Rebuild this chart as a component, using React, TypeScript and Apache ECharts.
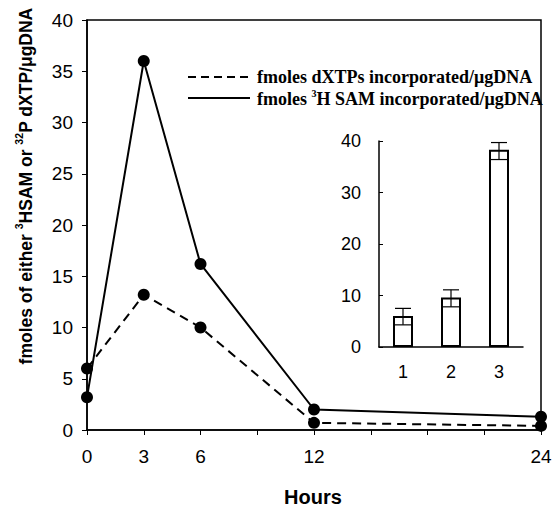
import React, { useEffect, useRef } from "react";
import * as echarts from "echarts";

const hours = [0, 3, 6, 12, 24];
const labeledHours = [0, 3, 6, 12, 24];
const samValues = [3.2, 36.0, 16.2, 2.0, 1.3];
const dxtpValues = [6.0, 13.2, 10.0, 0.7, 0.4];

const insetCategories = ["1", "2", "3"];
const insetValues = [6.0, 9.6, 38.3];
const insetErrLow = [4.3, 7.8, 36.4];
const insetErrHigh = [7.5, 11.1, 39.7];

const legendDxtp = "fmoles dXTPs incorporated/\u03bcgDNA";
const legendSamRich = "{a|fmoles }{s|3}{a|H SAM incorporated/\u03bcgDNA}";
const yAxisNameRich = "{a|fmoles of either }{s|3}{a|HSAM or }{s|32}{a|P dXTP/\u03bcgDNA}";
const xAxisName = "Hours";

const SANS = "'Liberation Sans', Arial, Helvetica, sans-serif";
const SERIF = "'Liberation Serif', 'Times New Roman', serif";

export default function App() {
  const ref = useRef<HTMLDivElement>(null);

  useEffect(() => {
    if (!ref.current) return;
    const chart = echarts.init(ref.current, undefined, { renderer: "svg" });

    const option: any = {
      animation: false,
      backgroundColor: "#fff",
      grid: [
        {
          left: 87,
          right: 17,
          top: 20,
          bottom: 80,
          show: true,
          borderColor: "#000",
          borderWidth: 1.5,
          backgroundColor: "transparent",
        },
        { left: 379, right: 35, top: 141, bottom: 163 },
      ],
      xAxis: [
        {
          type: "value",
          gridIndex: 0,
          min: 0,
          max: 24,
          interval: 3,
          axisLine: { show: true, lineStyle: { color: "#000", width: 1.5 } },
          axisTick: { show: true, length: 5, lineStyle: { color: "#000" } },
          splitLine: { show: false },
          axisLabel: {
            margin: 17,
            fontFamily: SANS,
            fontSize: 19,
            color: "#000",
            formatter: (v: number) => (labeledHours.indexOf(v) >= 0 ? String(v) : ""),
          },
        },
        {
          type: "category",
          gridIndex: 1,
          data: insetCategories,
          axisLine: { show: true, lineStyle: { color: "#000", width: 1.5 } },
          axisTick: { show: false },
          axisLabel: { margin: 16, fontFamily: SANS, fontSize: 18, color: "#000" },
        },
      ],
      yAxis: [
        {
          type: "value",
          gridIndex: 0,
          min: 0,
          max: 40,
          interval: 5,
          axisLine: { show: true, lineStyle: { color: "#000", width: 1.5 } },
          axisTick: { show: true, length: 5, lineStyle: { color: "#000" } },
          splitLine: { show: false },
          axisLabel: { margin: 14, fontFamily: SANS, fontSize: 19, color: "#000" },
        },
        {
          type: "value",
          gridIndex: 1,
          min: 0,
          max: 40,
          interval: 10,
          axisLine: { show: true, lineStyle: { color: "#000", width: 1.5 } },
          axisTick: { show: true, inside: true, length: 4, lineStyle: { color: "#000" } },
          splitLine: { show: false },
          axisLabel: { margin: 18, fontFamily: SANS, fontSize: 18, color: "#000" },
        },
      ],
      series: [
        {
          name: "dXTP",
          type: "line",
          xAxisIndex: 0,
          yAxisIndex: 0,
          data: hours.map((h, i) => [h, dxtpValues[i]]),
          symbol: "circle",
          symbolSize: 12,
          itemStyle: { color: "#000" },
          lineStyle: { color: "#000", width: 2, type: [9, 6] },
          z: 3,
        },
        {
          name: "SAM",
          type: "line",
          xAxisIndex: 0,
          yAxisIndex: 0,
          data: hours.map((h, i) => [h, samValues[i]]),
          symbol: "circle",
          symbolSize: 12,
          itemStyle: { color: "#000" },
          lineStyle: { color: "#000", width: 2 },
          z: 3,
        },
        {
          type: "bar",
          xAxisIndex: 1,
          yAxisIndex: 1,
          data: insetValues,
          barWidth: 20,
          itemStyle: { color: "#fff", borderColor: "#000", borderWidth: 2 },
          z: 2,
        },
        {
          type: "custom",
          xAxisIndex: 1,
          yAxisIndex: 1,
          data: insetCategories.map((_, i) => [i, insetErrLow[i], insetErrHigh[i]]),
          z: 4,
          renderItem: (params: any, api: any) => {
            const idx = api.value(0);
            const lo = api.coord([idx, api.value(1)]);
            const hi = api.coord([idx, api.value(2)]);
            const half = 8;
            const st = { stroke: "#000", lineWidth: 1.2 };
            return {
              type: "group",
              children: [
                { type: "line", shape: { x1: lo[0], y1: lo[1], x2: hi[0], y2: hi[1] }, style: st },
                { type: "line", shape: { x1: lo[0] - half, y1: lo[1], x2: lo[0] + half, y2: lo[1] }, style: st },
                { type: "line", shape: { x1: hi[0] - half, y1: hi[1], x2: hi[0] + half, y2: hi[1] }, style: st },
              ],
            };
          },
        },
      ],
      graphic: [
        {
          type: "text",
          x: 24,
          y: 186,
          rotation: Math.PI / 2,
          style: {
            text: yAxisNameRich,
            align: "center",
            verticalAlign: "middle",
            fill: "#000",
            rich: {
              a: { fontFamily: SANS, fontSize: 17.5, fontWeight: "bold", fill: "#000", lineHeight: 21, verticalAlign: "bottom" },
              s: { fontFamily: SANS, fontSize: 10.5, fontWeight: "bold", fill: "#000", lineHeight: 12, verticalAlign: "top" },
            },
          },
        },
        {
          type: "text",
          x: 313,
          y: 497,
          style: {
            text: xAxisName,
            fontFamily: SANS,
            fontSize: 20,
            fontWeight: "bold",
            fill: "#000",
            align: "center",
            verticalAlign: "middle",
          },
        },
        {
          type: "line",
          shape: { x1: 188, y1: 77, x2: 250, y2: 77 },
          style: { stroke: "#000", lineWidth: 2, lineDash: [8, 5] },
        },
        {
          type: "line",
          shape: { x1: 188, y1: 98, x2: 250, y2: 98 },
          style: { stroke: "#000", lineWidth: 2 },
        },
        {
          type: "text",
          x: 257,
          y: 77,
          style: {
            text: legendDxtp,
            fontFamily: SERIF,
            fontSize: 18,
            fontWeight: "bold",
            fill: "#000",
            verticalAlign: "middle",
          },
        },
        {
          type: "text",
          x: 257,
          y: 98,
          style: {
            text: legendSamRich,
            verticalAlign: "middle",
            fill: "#000",
            rich: {
              a: { fontFamily: SERIF, fontSize: 18, fontWeight: "bold", fill: "#000", lineHeight: 20, verticalAlign: "bottom" },
              s: { fontFamily: SERIF, fontSize: 10, fontWeight: "bold", fill: "#000", lineHeight: 11, verticalAlign: "top" },
            },
          },
        },
      ],
    };

    chart.setOption(option);
    return () => chart.dispose();
  }, []);

  return (
    <div
      ref={ref}
      style={{ position: "absolute", left: 0, top: 0, width: 558, height: 510, background: "#fff" }}
    />
  );
}
